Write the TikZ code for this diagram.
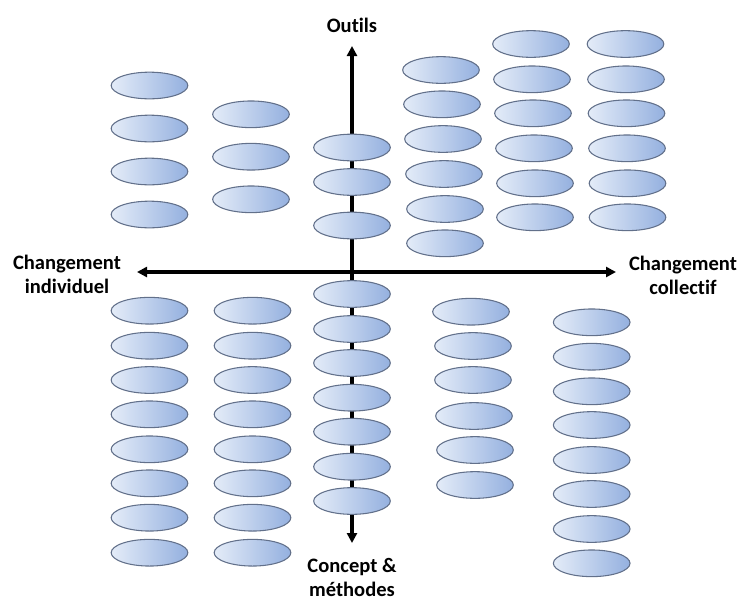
\documentclass[tikz,border=0pt]{standalone}
\usepackage{fontspec}
\setmainfont{Carlito}[Ligatures={NoCommon}]
\usetikzlibrary{arrows.meta,shapes.geometric}
\definecolor{blobleft}{RGB}{228,236,248}
\definecolor{blobright}{RGB}{148,176,223}
\definecolor{blobline}{RGB}{98,112,138}
\tikzset{
  blob/.style={ellipse, draw=blobline, line width=0.8pt, inner sep=0pt,
    minimum width=57.5pt, minimum height=20pt,
    left color=blobleft, right color=blobright},
  axis/.style={line width=2.3pt, black,
    {Triangle[length=7.5pt,width=7.5pt]}-{Triangle[length=7.5pt,width=7.5pt]}},
  axlabel/.style={font=\bfseries\fontsize{15.4pt}{18pt}\selectfont, align=center, inner sep=0pt}
}
\begin{document}
\begin{tikzpicture}[x=0.75pt,y=-0.75pt]
\useasboundingbox (0,0) rectangle (740,601);
% axis end points
\coordinate (axtop) at (352,46);
\coordinate (axbot) at (352,543);
\coordinate (axleft) at (137,272);
\coordinate (axright) at (616,272);
\draw[axis] (axbot) -- (axtop);
\draw[axis] (axleft) -- (axright);
% axis labels
\node[axlabel] (outils) at (352,25) {Outils};
\node[axlabel] (indiv) at (67,274) {Changement\\individuel};
\node[axlabel] (coll) at (683,275) {Changement\\collectif};
\node[axlabel] (concept) at (352,577) {Concept \&\\méthodes};
% upper half
\foreach \y [count=\i] in {85.5,128.5,171.5,214.5}
  \node[blob] (ua\i) at (149.5,\y) {};
\foreach \y [count=\i] in {114.3,156.7,199.3}
  \node[blob] (ub\i) at (251,\y) {};
\foreach \y [count=\i] in {147.5,182,225.5}
  \node[blob] (uc\i) at (352,\y) {};
\foreach \x/\y [count=\i] in {441/70,442/104.3,443/139,444/174,445/209,445/243.3}
  \node[blob] (ud\i) at (\x,\y) {};
\foreach \x/\y [count=\i] in {531/44,532/79.3,533/113.3,534/148.3,535/183.3,535/217.3}
  \node[blob] (ue\i) at (\x,\y) {};
\foreach \x/\y [count=\i] in {625.5/44,626/79.3,626.5/113.3,627/148.3,627.5/183.3,627.5/217.3}
  \node[blob] (uf\i) at (\x,\y) {};
% lower half
\foreach \y [count=\i] in {310.7,345.7,380,414.3,449.3,483.3,517.7,552.7}{
  \node[blob] (la\i) at (149.5,\y) {};
  \node[blob] (lb\i) at (252.5,\y) {};
}
\foreach \y [count=\i] in {294,329,363,397.7,431.7,466.7,501}
  \node[blob] (lc\i) at (352,\y) {};
\foreach \x/\y [count=\i] in {471/311.7,473/346,473/380,474/416,475/450,475/485}
  \node[blob] (ld\i) at (\x,\y) {};
\foreach \y [count=\i] in {322.3,356.7,391.3,425,460,494,529,563.3}
  \node[blob] (lg\i) at (591.7,\y) {};
\end{tikzpicture}
\end{document}
